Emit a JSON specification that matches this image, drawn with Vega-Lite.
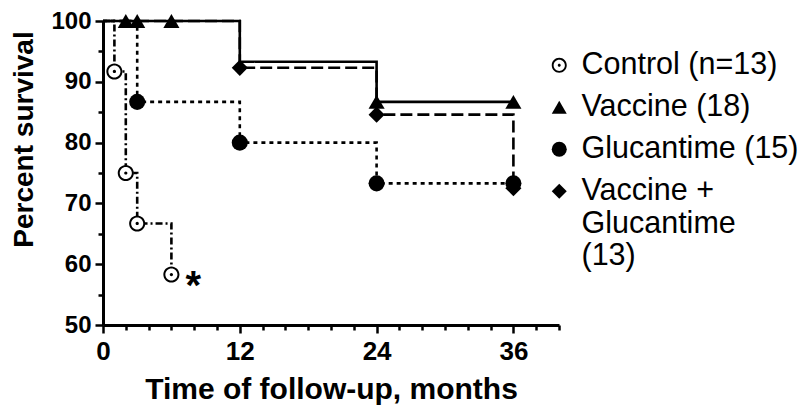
{
  "$schema": "https://vega.github.io/schema/vega-lite/v6.json",
  "width": 456,
  "height": 304,
  "autosize": {"type": "none"},
  "padding": {"left": 103, "top": 21, "right": 241, "bottom": 89},
  "background": "white",
  "config": {
    "view": {"stroke": null},
    "font": "Liberation Sans",
    "axis": {
      "domainColor": "black",
      "domainWidth": 3,
      "tickColor": "black",
      "tickWidth": 2.5,
      "labelColor": "black",
      "titleColor": "black",
      "labelFont": "Liberation Sans",
      "titleFont": "Liberation Sans",
      "labelFontWeight": "bold",
      "titleFontWeight": "bold",
      "grid": false,
      "labelOverlap": false,
      "labelFlush": false
    }
  },
  "datasets": {
    "curves": [
      {"group": "Control (n=13)", "t": 0, "s": 100},
      {"group": "Control (n=13)", "t": 1, "s": 91.7},
      {"group": "Control (n=13)", "t": 2, "s": 75},
      {"group": "Control (n=13)", "t": 3, "s": 66.7},
      {"group": "Control (n=13)", "t": 6, "s": 58.3},
      {"group": "Glucantime (15)", "t": 0, "s": 100},
      {"group": "Glucantime (15)", "t": 3, "s": 86.7},
      {"group": "Glucantime (15)", "t": 12, "s": 80},
      {"group": "Glucantime (15)", "t": 24, "s": 73.3},
      {"group": "Glucantime (15)", "t": 36, "s": 73.3},
      {"group": "Vaccine + Glucantime (13)", "t": 0, "s": 100},
      {"group": "Vaccine + Glucantime (13)", "t": 12, "s": 92.3},
      {"group": "Vaccine + Glucantime (13)", "t": 24, "s": 84.6},
      {"group": "Vaccine + Glucantime (13)", "t": 36, "s": 72.5},
      {"group": "Vaccine (18)", "t": 0, "s": 100},
      {"group": "Vaccine (18)", "t": 12, "s": 93.3},
      {"group": "Vaccine (18)", "t": 24, "s": 86.7},
      {"group": "Vaccine (18)", "t": 36, "s": 86.7}
    ],
    "symbols": [
      {"group": "Vaccine + Glucantime (13)", "t": 12, "s": 92.3},
      {"group": "Vaccine + Glucantime (13)", "t": 24, "s": 84.6},
      {"group": "Vaccine + Glucantime (13)", "t": 36, "s": 72.5},
      {"group": "Glucantime (15)", "t": 3, "s": 86.7},
      {"group": "Glucantime (15)", "t": 12, "s": 80},
      {"group": "Glucantime (15)", "t": 24, "s": 73.3},
      {"group": "Glucantime (15)", "t": 36, "s": 73.3},
      {"group": "Vaccine (18)", "t": 2, "s": 100},
      {"group": "Vaccine (18)", "t": 3, "s": 100},
      {"group": "Vaccine (18)", "t": 6, "s": 100},
      {"group": "Vaccine (18)", "t": 24, "s": 86.7},
      {"group": "Vaccine (18)", "t": 36, "s": 86.7},
      {"group": "Control (n=13)", "t": 1, "s": 91.7},
      {"group": "Control (n=13)", "t": 2, "s": 75},
      {"group": "Control (n=13)", "t": 3, "s": 66.7},
      {"group": "Control (n=13)", "t": 6, "s": 58.3}
    ],
    "notes": [
      {"t": 6, "s": 58.3, "note": "*"}
    ]
  },
  "encoding": {
    "x": {
      "field": "t",
      "type": "quantitative",
      "scale": {"domain": [0, 40], "nice": false, "zero": false},
      "axis": {
        "title": "Time of follow-up, months",
        "values": [0, 2, 4, 6, 8, 10, 12, 14, 16, 18, 20, 22, 24, 26, 28, 30, 32, 34, 36, 38, 40],
        "labelExpr": "datum.value % 12 === 0 ? datum.label : ''",
        "tickSize": {"condition": {"test": "datum.value % 12 === 0", "value": 8}, "value": 5},
        "labelFontSize": 26,
        "labelPadding": 5,
        "titleFontSize": 30,
        "titleBaseline": "alphabetic",
        "titleY": 73
      }
    },
    "y": {
      "field": "s",
      "type": "quantitative",
      "scale": {"domain": [50, 100], "nice": false, "zero": false},
      "axis": {
        "title": "Percent survival",
        "values": [50, 55, 60, 65, 70, 75, 80, 85, 90, 95, 100],
        "labelExpr": "datum.value % 10 === 0 ? datum.label : ''",
        "tickSize": {"condition": {"test": "datum.value % 10 === 0", "value": 8}, "value": 5},
        "labelFontSize": 24,
        "labelPadding": 4,
        "titleFontSize": 28,
        "titleBaseline": "alphabetic",
        "titleAlign": "center",
        "titleX": -71,
        "titleY": 118
      }
    }
  },
  "layer": [
    {
      "data": {"name": "curves"},
      "mark": {"type": "line", "interpolate": "step-after", "color": "black", "strokeWidth": 2.6},
      "encoding": {
        "detail": {"field": "group"},
        "strokeDash": {
          "field": "group",
          "type": "nominal",
          "scale": {
            "domain": ["Vaccine (18)", "Control (n=13)", "Glucantime (15)", "Vaccine + Glucantime (13)"],
            "range": [[1, 0], [7, 3, 2, 3], [4, 4], [12, 5]]
          },
          "legend": null
        }
      }
    },
    {
      "data": {"name": "symbols"},
      "transform": [{"filter": "datum.group === 'Control (n=13)'"}],
      "mark": {"type": "point", "shape": "circle", "filled": true, "opacity": 1, "color": "white", "size": 230}
    },
    {
      "data": {"name": "symbols"},
      "mark": {"type": "point", "filled": true, "opacity": 1, "color": "black", "strokeWidth": 0, "size": 260},
      "encoding": {
        "shape": {
          "field": "group",
          "type": "nominal",
          "scale": {
            "domain": ["Control (n=13)", "Vaccine (18)", "Glucantime (15)", "Vaccine + Glucantime (13)"],
            "range": [
              "M1,0A1,1,0,1,1,-1,0A1,1,0,1,1,1,0ZM0.75,0A0.75,0.75,0,1,0,-0.75,0A0.75,0.75,0,1,0,0.75,0ZM0.2,0A0.2,0.2,0,1,1,-0.2,0A0.2,0.2,0,1,1,0.2,0Z",
              "triangle-up",
              "circle",
              "diamond"
            ]
          },
          "legend": {
            "title": null,
            "orient": "none",
            "legendX": 441,
            "legendY": 29,
            "padding": 0,
            "labelFont": "Liberation Sans",
            "labelFontSize": 30.5,
            "labelColor": "black",
            "labelLimit": 400,
            "labelOffset": 7,
            "rowPadding": 11,
            "symbolSize": 225,
            "symbolStrokeWidth": 0,
            "symbolFillColor": "black",
            "labelExpr": "datum.label === 'Vaccine + Glucantime (13)' ? ['Vaccine +', 'Glucantime', '(13)'] : datum.label"
          }
        }
      }
    },
    {
      "data": {"name": "notes"},
      "mark": {"type": "text", "align": "center", "baseline": "top", "dx": 22, "dy": -8, "fontSize": 40, "fontWeight": "bold", "color": "black", "font": "Liberation Sans"},
      "encoding": {"text": {"field": "note"}}
    }
  ]
}
